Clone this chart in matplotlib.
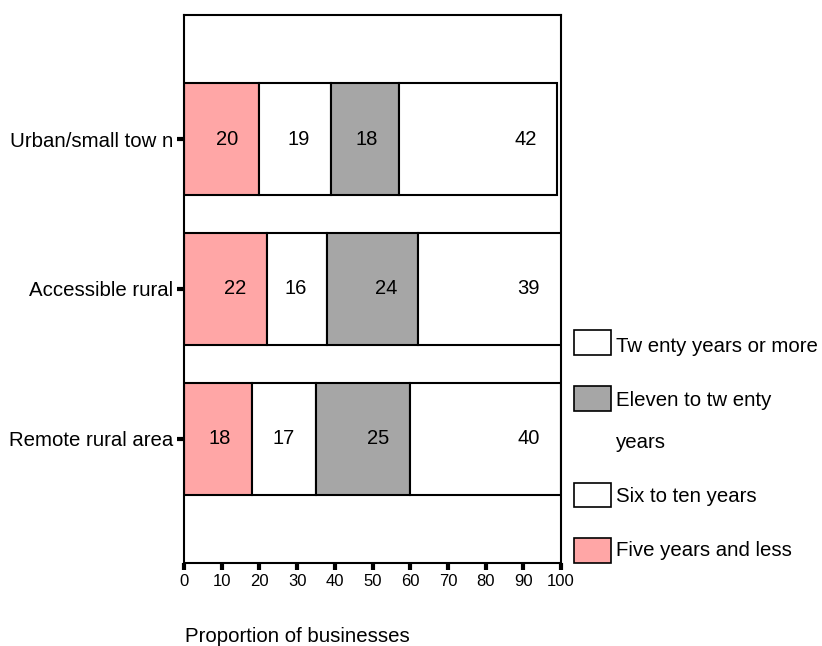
import matplotlib
matplotlib.use("Agg")
import matplotlib.pyplot as plt
from matplotlib.patches import Rectangle

plt.rcParams["font.family"] = ["Liberation Sans", "DejaVu Sans"]

# Survey results: share of businesses by years trading, per area type
areas = ["Urban/small tow n", "Accessible rural", "Remote rural area"]
series_names = ["Five years and less", "Six to ten years",
                "Eleven to tw enty years", "Tw enty years or more"]
five_or_less = [20, 22, 18]
six_to_ten = [19, 16, 17]
eleven_to_twenty = [18, 24, 25]
twenty_plus = [42, 39, 40]
x_ticks = [0, 10, 20, 30, 40, 50, 60, 70, 80, 90, 100]

series = [five_or_less, six_to_ten, eleven_to_twenty, twenty_plus]
colors = ["#ffa6a6", "#ffffff", "#a6a6a6", "#ffffff"]

W, H = 822, 646
fig = plt.figure(figsize=(W / 100, H / 100), dpi=100)
ax = fig.add_axes([184 / W, 1 - 563 / H, (561 - 184) / W, (563 - 15) / H])

XMAX = 100
ypos = [2, 1, 0]
left = [0, 0, 0]
for vals, col in zip(series, colors):
    bars = ax.barh(ypos, vals, left=left, height=0.75, color=col,
                   edgecolor="black", linewidth=1.5, zorder=2)
    for b, v in zip(bars, vals):
        end = min(b.get_x() + b.get_width(), XMAX)
        ax.annotate(f"{v}", xy=(end, b.get_y() + b.get_height() / 2),
                    xytext=(-15, 0), textcoords="offset points",
                    ha="right", va="center", fontsize=14.5, color="black",
                    zorder=3, annotation_clip=False)
    left = [l + v for l, v in zip(left, vals)]

ax.set_xlim(0, XMAX)
ax.set_ylim(-0.83, 2.83)
ax.set_xticks(x_ticks)
ax.set_xticklabels([str(t) for t in x_ticks], fontsize=12)
ax.set_yticks(ypos)
ax.set_yticklabels(areas, fontsize=14.7)
ax.tick_params(axis="x", direction="out", length=5, width=3, pad=3)
ax.tick_params(axis="y", direction="out", length=5, width=3, pad=3)
for s in ax.spines.values():
    s.set_linewidth(1.5)
    s.set_color("black")

fig.text(185 / W, 1 - 642 / H, "Proportion of businesses", ha="left",
         va="baseline", fontsize=14.7)

# Legend drawn beside the plot area
def fy(py):
    return 1 - py / H

legend_items = [
    ("#ffffff", 330, 355, [("Tw enty years or more", 346)]),
    ("#a6a6a6", 386, 411, [("Eleven to tw enty", 400), ("years", 443)]),
    ("#ffffff", 483, 507, [("Six to ten years", 497)]),
    ("#ffa6a6", 538, 563, [("Five years and less", 551)]),
]
for col, top, bot, lines in legend_items:
    fig.add_artist(Rectangle((574 / W, fy(bot)), (611 - 574) / W, (bot - top) / H,
                             transform=fig.transFigure, facecolor=col,
                             edgecolor="black", linewidth=1.2))
    for txt, cy in lines:
        fig.text(616 / W, fy(cy), txt, ha="left", va="center", fontsize=14.7)

fig.savefig("out.png", dpi=100, facecolor="white")
